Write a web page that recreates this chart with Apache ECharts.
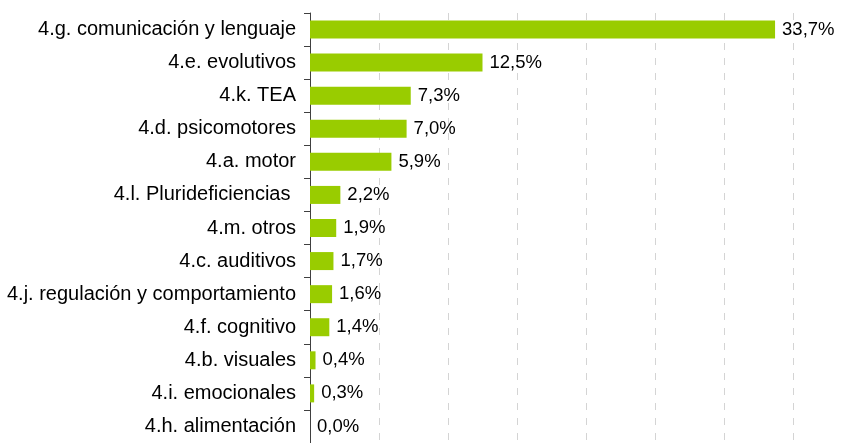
<!DOCTYPE html>
<html>
<head>
<meta charset="utf-8">
<script src="https://cdn.jsdelivr.net/npm/echarts@6/dist/echarts.min.js"></script>
<style>html,body{margin:0;padding:0;background:#fff;}#c{width:841px;height:443px;}</style>
</head>
<body>
<div id="c"></div>
<script>
const categories = [
  "4.g. comunicación y lenguaje",
  "4.e. evolutivos",
  "4.k. TEA",
  "4.d. psicomotores",
  "4.a. motor",
  "4.l. Plurideficiencias ",
  "4.m. otros",
  "4.c. auditivos",
  "4.j. regulación y comportamiento",
  "4.f. cognitivo",
  "4.b. visuales",
  "4.i. emocionales",
  "4.h. alimentación"
];
const values = [33.7, 12.5, 7.3, 7.0, 5.9, 2.2, 1.9, 1.7, 1.6, 1.4, 0.4, 0.3, 0.0];
const xMin = 0, xMax = 35, xStep = 5;

const chart = echarts.init(document.getElementById('c'), null, {renderer: 'canvas'});
chart.setOption({
  animation: false,
  grid: {left: 310, right: 48, top: 13, bottom: -4, containLabel: false},
  xAxis: {
    type: 'value', min: xMin, max: xMax, interval: xStep,
    axisLine: {show: false}, axisTick: {show: false}, axisLabel: {show: false},
    splitLine: {show: true, lineStyle: {color: '#d4d4d4', width: 1, type: [7, 8]}}
  },
  yAxis: {
    type: 'category', data: categories, inverse: true,
    axisLine: {show: true, lineStyle: {color: '#404040', width: 1}},
    axisTick: {show: true, length: 6, inside: false, lineStyle: {color: '#404040'}},
    axisLabel: {fontFamily: 'Liberation Sans, Arial, sans-serif', fontSize: 20, color: '#000', margin: 14},
    splitLine: {show: false}
  },
  series: [{
    type: 'bar', data: values, barWidth: 18,
    itemStyle: {color: '#99cc00'},
    label: {
      show: true, position: 'right', distance: 7,
      fontFamily: 'Liberation Sans, Arial, sans-serif', fontSize: 18.5, color: '#000',
      formatter: p => p.value.toFixed(1).replace('.', ',') + '%'
    }
  }]
});
</script>
</body>
</html>
